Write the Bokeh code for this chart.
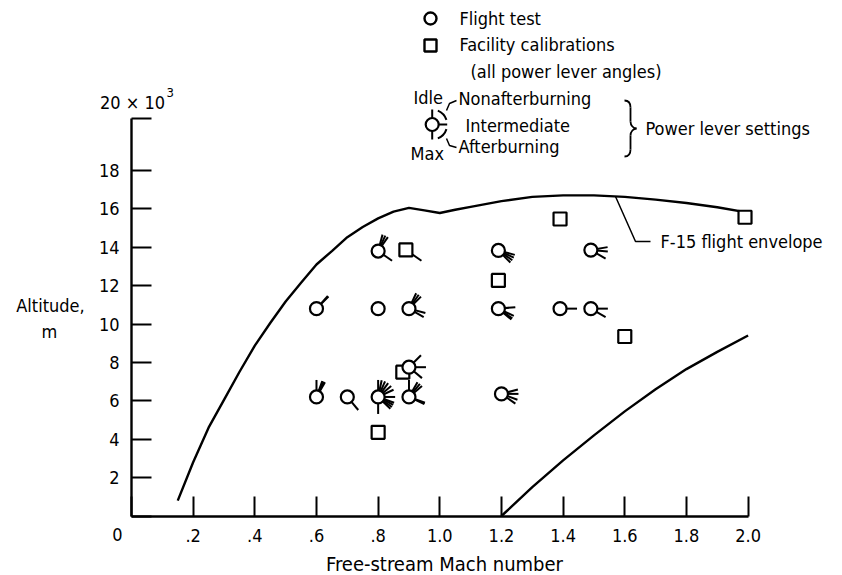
from bokeh.plotting import figure
from bokeh.models import Label, FixedTicker, Range1d
from bokeh.embed import file_html
from bokeh.resources import INLINE

FONT = "DejaVu Sans Condensed, Liberation Sans, sans-serif"

# ---------------- data ----------------
# F-15 flight envelope (upper / left boundary)
env_mach = [0.15, 0.2, 0.25, 0.3, 0.35, 0.4, 0.45, 0.5, 0.55, 0.6, 0.65, 0.7, 0.75,
            0.8, 0.85, 0.9, 0.95, 1.0, 1.05, 1.1, 1.2, 1.3, 1.4, 1.5, 1.6, 1.7,
            1.8, 1.9, 2.0]
env_alt = [800, 2800, 4600, 6050, 7500, 8870, 10050, 11170, 12150, 13100, 13800,
           14520, 15050, 15500, 15850, 16050, 15920, 15780, 15950, 16100, 16400,
           16620, 16700, 16700, 16620, 16480, 16300, 16080, 15800]
# F-15 flight envelope (lower right boundary)
sup_mach = [1.2, 1.3, 1.4, 1.5, 1.6, 1.7, 1.8, 1.9, 2.0]
sup_alt = [0, 1500, 2900, 4200, 5450, 6600, 7650, 8550, 9400]

# Flight test points and their power-lever flags (deg: 90 idle, 0 intermediate, -90 max)
ft_mach = [0.6, 0.8, 0.8, 0.9, 0.9, 0.6, 0.7, 0.8, 0.9, 1.19, 1.49, 1.19, 1.39, 1.49, 1.2]
ft_alt = [10800, 13800, 10800, 10800, 7750, 6200, 6200, 6200, 6200, 13830, 13850,
          10800, 10800, 10800, 6360]
ft_flags = [
    [45, 48],
    [55, 65, 75, -35],
    [],
    [45, 55, 65, -15, -30],
    [45, 0, -40],
    [90, 70, 65, 60],
    [-50],
    [90, 78, 66, 54, 40, 25, 0, -20, -28, -36, -44, -90],
    [90, 60, 50, 40, -20, -25],
    [-15, -25, -35, -45],
    [10, -5, -30],
    [5, -25, -35, -40],
    [0],
    [0, -30],
    [15, 0, -20, -35],
]

# Facility calibrations
fc_mach = [0.89, 0.88, 0.8, 1.19, 1.39, 1.6, 1.99]
fc_alt = [13860, 7490, 4360, 12270, 15470, 9350, 15560]
fc_flags = [[-35], [], [], [], [], [], []]

x_ticks = [0, 0.2, 0.4, 0.6, 0.8, 1.0, 1.2, 1.4, 1.6, 1.8, 2.0]
x_tick_labels = ["", ".2", ".4", ".6", ".8", "1.0", "1.2", "1.4", "1.6", "1.8", "2.0"]
y_ticks = [0, 2000, 4000, 6000, 8000, 10000, 12000, 14000, 16000, 18000]
y_tick_labels = ["", "2", "4", "6", "8", "10", "12", "14", "16", "18"]
y_axis_top = 20700

# ---------------- layout ----------------
W, H = 842, 575
X0, Y0 = 131.0, 515.5          # pixel position of (Mach 0, altitude 0)
PX_PER_MACH = 308.3
PX_PER_KM = 19.2

def X(ix):
    return (ix - X0) / PX_PER_MACH

def Y(iy):
    return (Y0 - iy) / PX_PER_KM * 1000

p = figure(width=W, height=H, output_backend="svg", toolbar_location=None,
           x_range=Range1d(X(0), X(W)), y_range=Range1d(Y(H), Y(0)),
           min_border_left=0, min_border_right=0, min_border_top=0, min_border_bottom=0,
           title=None)
p.outline_line_color = None
p.xgrid.visible = False
p.ygrid.visible = False
p.background_fill_color = "white"
p.border_fill_color = "white"

for ax in (p.xaxis[0], p.yaxis[0]):
    ax.fixed_location = 0
    ax.axis_line_width = 2.4
    ax.major_tick_line_width = 2
    ax.major_tick_in = 20
    ax.major_tick_out = 0
    ax.minor_tick_line_color = None
    ax.major_label_text_font = FONT
    ax.major_label_text_font_size = "18px"
    ax.major_label_text_color = "black"
    ax.axis_line_color = "black"
    ax.major_tick_line_color = "black"

p.xaxis.ticker = FixedTicker(ticks=x_ticks)
p.xaxis.major_label_overrides = {t: s for t, s in zip(x_ticks, x_tick_labels)}
p.xaxis.bounds = (0, x_ticks[-1])
p.xaxis.major_label_standoff = 13

p.yaxis.ticker = FixedTicker(ticks=y_ticks + [y_axis_top])
ov = {t: s for t, s in zip(y_ticks, y_tick_labels)}
ov[y_axis_top] = ""
p.yaxis.major_label_overrides = ov
p.yaxis.bounds = (0, y_axis_top)
p.yaxis.major_label_standoff = 12

# ---------------- envelope ----------------
p.line(env_mach, env_alt, line_color="black", line_width=2.4)
p.line(sup_mach, sup_alt, line_color="black", line_width=2.4)

# ---------------- flags ----------------
rx, ry, ra = [], [], []
for m, a, fl in zip(ft_mach, ft_alt, ft_flags):
    for ang in fl:
        rx.append(m); ry.append(a); ra.append(ang)
sx, sy, sa = [], [], []
for m, a, fl in zip(fc_mach, fc_alt, fc_flags):
    for ang in fl:
        sx.append(m); sy.append(a); sa.append(ang)
p.ray(x=rx, y=ry, length=17, length_units="screen", angle=ra, angle_units="deg",
      line_color="black", line_width=2)
p.ray(x=sx, y=sy, length=19, length_units="screen", angle=sa, angle_units="deg",
      line_color="black", line_width=2)

p.scatter(fc_mach, fc_alt, marker="square", size=13, fill_color="white",
          line_color="black", line_width=2.2)
p.scatter(ft_mach, ft_alt, marker="circle", size=13, fill_color="white",
          line_color="black", line_width=2.2)

# ---------------- legend ----------------
p.scatter([X(430)], [Y(18)], marker="circle", size=12, fill_color="white",
          line_color="black", line_width=2.4)
p.scatter([X(430)], [Y(45)], marker="square", size=12, fill_color="white",
          line_color="black", line_width=2.4)

cx, cy = X(431.7), Y(124)
p.ray(x=[cx, cx, cx], y=[cy, cy, cy], length=15, length_units="screen",
      angle=[90, 0, -90], angle_units="deg", line_color="black", line_width=2)
p.scatter([cx], [cy], marker="circle", size=13, fill_color="white",
          line_color="black", line_width=2.2)
p.arc(x=[cx, cx], y=[cy, cy], radius=15, radius_units="screen",
      start_angle=[18, -68], end_angle=[68, -18],
      start_angle_units="deg", end_angle_units="deg",
      line_color="black", line_width=2)
p.line([X(446), X(449), X(456)], [Y(110), Y(103), Y(100)], line_color="black", line_width=1.5)
p.line([X(446), X(449), X(456)], [Y(138), Y(145), Y(147)], line_color="black", line_width=1.5)

# brace
bz = [
    ((624, 100), (630, 107), (628, 100), (630, 103)),
    ((630, 107), (630, 121), (630, 107), (630, 121)),
    ((630, 121), (636, 128), (630, 125), (633, 128)),
    ((636, 128), (630, 135), (633, 128), (630, 131)),
    ((630, 135), (630, 149), (630, 135), (630, 149)),
    ((630, 149), (624, 156), (630, 153), (628, 156)),
]
p.bezier(x0=[X(s[0][0]) for s in bz], y0=[Y(s[0][1]) for s in bz],
         x1=[X(s[1][0]) for s in bz], y1=[Y(s[1][1]) for s in bz],
         cx0=[X(s[2][0]) for s in bz], cy0=[Y(s[2][1]) for s in bz],
         cx1=[X(s[3][0]) for s in bz], cy1=[Y(s[3][1]) for s in bz],
         line_color="black", line_width=1.8)

# envelope leader line
p.line([X(615), X(635), X(650)], [Y(196), Y(241), Y(241)], line_color="black", line_width=1.5)

def lab(text, ix, iy, align="left", size="18px"):
    p.add_layout(Label(x=X(ix), y=Y(iy), text=text, text_align=align,
                       text_baseline="middle", text_font=FONT, text_font_size=size,
                       text_color="black"))

lab("Flight test", 459, 18)
lab("Facility calibrations", 459, 44)
lab("(all power lever angles)", 470, 71)
lab("Idle", 413, 97)
lab("Nonafterburning", 458, 98)
lab("Intermediate", 465, 125)
lab("Afterburning", 458, 146)
lab("Max", 410, 153)
lab("Power lever settings", 645, 128)
lab("F-15 flight envelope", 660, 241)
lab("Altitude,", 50, 305, "center")
lab("m", 49, 331, "center")
lab("20 \u00d7 10", 132, 102, "center")
lab("3", 166, 92, "left", "13px")
lab("0", 117, 534, "center")
lab("Free-stream Mach number", 444, 563, "center", "20px")

open("out.html", "w").write(file_html(p, INLINE))
